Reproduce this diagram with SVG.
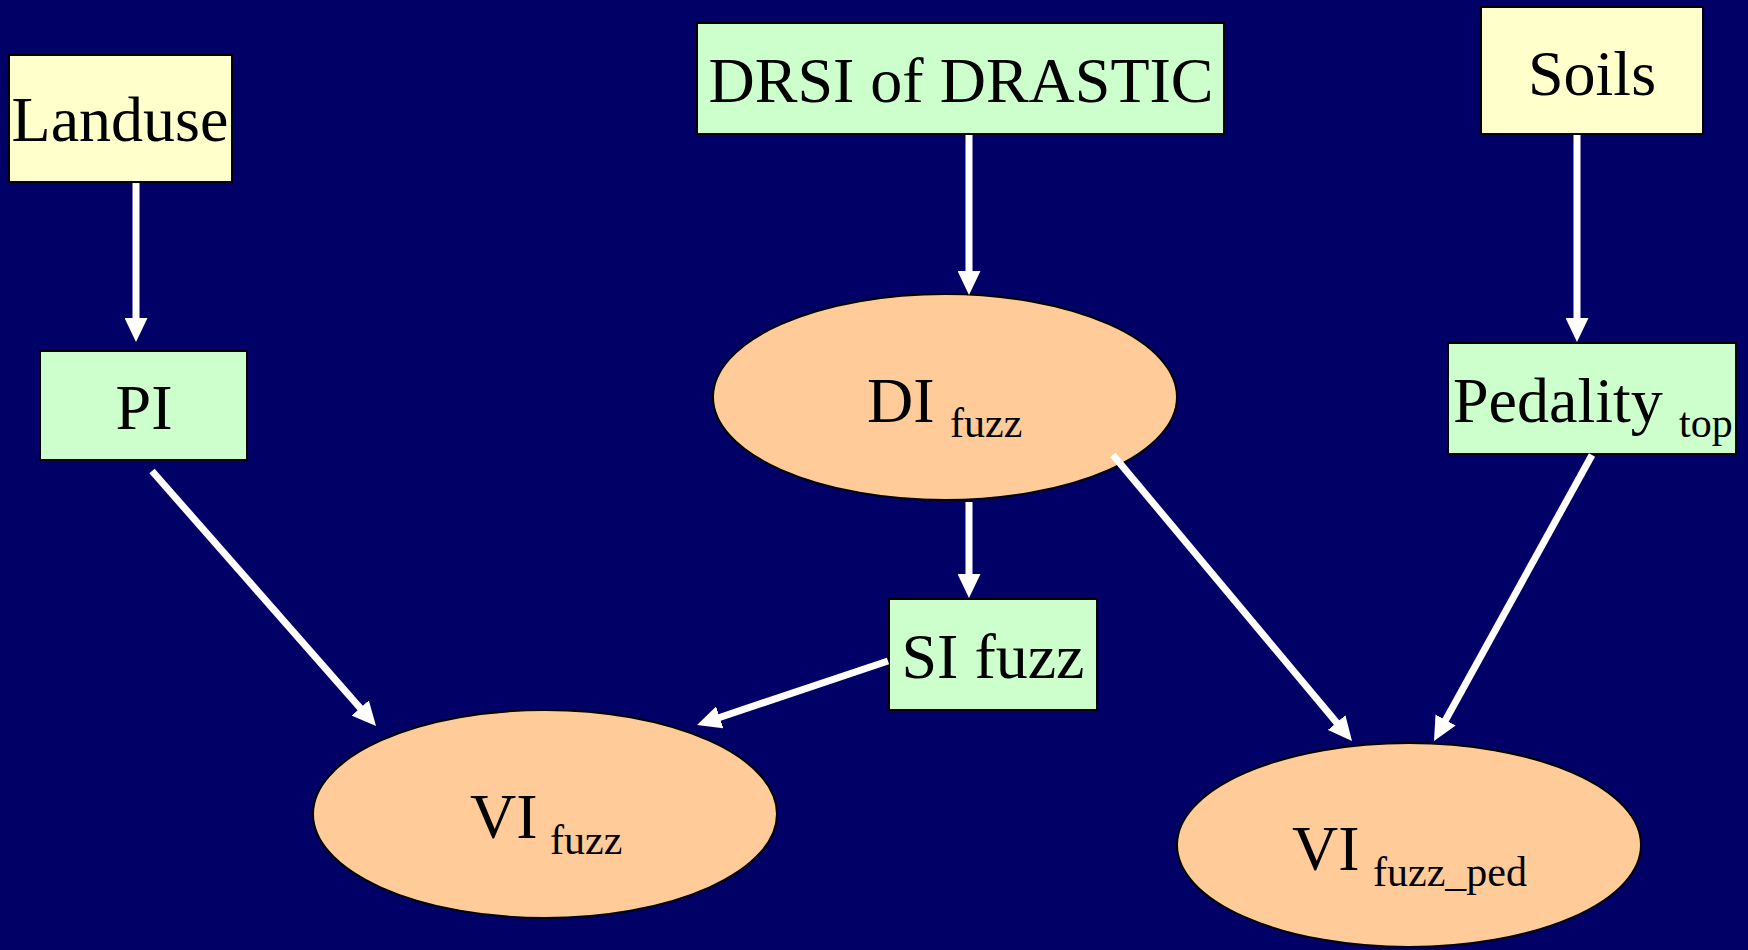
<svg xmlns="http://www.w3.org/2000/svg" width="1748" height="950" viewBox="0 0 1748 950">
  <style>
    .box { stroke: #000000; stroke-width: 2; }
    .yel { fill: #FFFFCC; }
    .grn { fill: #CCFFCC; }
    .ell { fill: #FFCC99; stroke: #000000; stroke-width: 2; }
    .t { font-family: "Liberation Serif", "Times New Roman", serif; font-size: 64px; fill: #000000; }
    .s { font-size: 42px; }
    .c { text-anchor: middle; }
    .conn line { stroke: #FFFFFF; stroke-width: 7; fill: none; marker-end: url(#ah); }
  </style>
  <defs>
    <marker id="ah" markerUnits="userSpaceOnUse" viewBox="0 0 24 23" markerWidth="24" markerHeight="23" refX="12" refY="11.5" orient="auto">
      <path d="M0,0 L24,11.5 L0,23 Z" fill="#FFFFFF"/>
    </marker>
  </defs>
  <rect x="0" y="0" width="1748" height="950" fill="#000066"/>

  <g id="landuse">
    <rect class="box yel" x="9" y="55" width="223" height="127"/>
    <text class="t c" x="120" y="141">Landuse</text>
  </g>
  <g id="drsi">
    <rect class="box grn" x="697" y="23" width="527" height="111"/>
    <text class="t c" x="961" y="102">DRSI of DRASTIC</text>
  </g>
  <g id="soils">
    <rect class="box yel" x="1481" y="7" width="222" height="127"/>
    <text class="t c" x="1592" y="95">Soils</text>
  </g>
  <g id="pi">
    <rect class="box grn" x="40" y="351" width="207" height="109"/>
    <text class="t c" x="144" y="429">PI</text>
  </g>
  <g id="di">
    <ellipse class="ell" cx="945" cy="397" rx="232" ry="103"/>
    <text class="t" x="867" y="422">DI<tspan class="s" x="950" y="437">fuzz</tspan></text>
  </g>
  <g id="pedality">
    <rect class="box grn" x="1448" y="343" width="288" height="111"/>
    <text class="t" x="1453" y="422">Pedality<tspan class="s" x="1679" y="437">top</tspan></text>
  </g>
  <g id="si">
    <rect class="box grn" x="889" y="599" width="208" height="111"/>
    <text class="t c" x="993" y="678">SI fuzz</text>
  </g>
  <g id="vi_fuzz">
    <ellipse class="ell" cx="545" cy="814" rx="232" ry="104"/>
    <text class="t" x="470" y="838">VI<tspan class="s" x="550" y="854">fuzz</tspan></text>
  </g>
  <g id="vi_fuzz_ped">
    <ellipse class="ell" cx="1409" cy="845" rx="232" ry="102"/>
    <text class="t" x="1292" y="870">VI<tspan class="s" x="1373" y="886">fuzz_ped</tspan></text>
  </g>

  <g id="connectors" class="conn">
    <line x1="136" y1="183" x2="136" y2="330"/>
    <line x1="969" y1="135" x2="969" y2="283"/>
    <line x1="1577" y1="135" x2="1577" y2="330"/>
    <line x1="969" y1="502" x2="969" y2="586"/>
    <line x1="152" y1="471" x2="368.1" y2="717"/>
    <line x1="888" y1="661" x2="708.4" y2="721.2"/>
    <line x1="1113" y1="455" x2="1344.3" y2="731.8"/>
    <line x1="1592" y1="455" x2="1439.8" y2="730.5"/>
  </g>
</svg>
